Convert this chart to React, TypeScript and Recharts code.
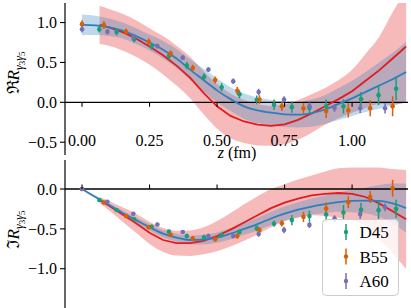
import React from "react";
import { ComposedChart, Area, Line, Scatter, ErrorBar, XAxis, YAxis, ReferenceLine } from "recharts";

// fit curves, sampled on a z grid (fm)
const zFit = [0, 0.05, 0.1, 0.15, 0.2, 0.25, 0.3, 0.35, 0.4, 0.45, 0.5, 0.55, 0.6, 0.65, 0.7, 0.75, 0.8, 0.85, 0.9, 0.95, 1.0, 1.05, 1.1, 1.15, 1.2];
const zRed = [0.065, 0.1, 0.15, 0.2, 0.25, 0.3, 0.35, 0.4, 0.45, 0.5, 0.55, 0.6, 0.65, 0.7, 0.75, 0.8, 0.85, 0.9, 0.95, 1.0, 1.05, 1.1, 1.15, 1.2];

const reBlue = [0.97, 0.965, 0.94, 0.9, 0.83, 0.75, 0.66, 0.55, 0.41, 0.28, 0.15, 0.04, -0.05, -0.1, -0.13, -0.15, -0.155, -0.135, -0.09, -0.02, 0.05, 0.13, 0.21, 0.29, 0.38];
const reBlueErr = [0.13, 0.12, 0.11, 0.1, 0.1, 0.1, 0.11, 0.12, 0.13, 0.14, 0.15, 0.15, 0.16, 0.16, 0.16, 0.16, 0.16, 0.17, 0.18, 0.2, 0.22, 0.25, 0.29, 0.33, 0.38];
const reRed = [0.97, 0.94, 0.88, 0.8, 0.7, 0.59, 0.46, 0.31, 0.12, -0.05, -0.17, -0.24, -0.28, -0.295, -0.275, -0.22, -0.14, -0.05, 0.04, 0.14, 0.27, 0.4, 0.55, 0.7];
const reRedErr = [0.24, 0.23, 0.23, 0.23, 0.23, 0.24, 0.25, 0.26, 0.27, 0.28, 0.28, 0.27, 0.26, 0.25, 0.25, 0.25, 0.24, 0.23, 0.24, 0.27, 0.34, 0.42, 0.58, 0.7];

const imBlue = [0, -0.1, -0.2, -0.3, -0.39, -0.48, -0.56, -0.61, -0.64, -0.635, -0.61, -0.56, -0.5, -0.44, -0.37, -0.31, -0.26, -0.22, -0.19, -0.165, -0.15, -0.145, -0.15, -0.18, -0.24];
const imBlueErr = [0.01, 0.015, 0.02, 0.03, 0.035, 0.04, 0.045, 0.05, 0.055, 0.06, 0.065, 0.07, 0.075, 0.08, 0.085, 0.09, 0.095, 0.1, 0.11, 0.12, 0.14, 0.16, 0.2, 0.25, 0.31];
const imRed = [-0.14, -0.21, -0.32, -0.43, -0.55, -0.64, -0.68, -0.68, -0.65, -0.59, -0.51, -0.42, -0.33, -0.24, -0.17, -0.12, -0.08, -0.06, -0.05, -0.06, -0.1, -0.18, -0.28, -0.38];
const imRedErr = [0.04, 0.06, 0.09, 0.12, 0.14, 0.15, 0.155, 0.16, 0.17, 0.19, 0.21, 0.23, 0.24, 0.24, 0.23, 0.24, 0.25, 0.28, 0.31, 0.33, 0.37, 0.45, 0.53, 0.62];

// lattice data
const zD45 = [0.064, 0.128, 0.193, 0.258, 0.322, 0.388, 0.452, 0.517, 0.583, 0.647, 0.711, 0.777, 0.842, 0.904, 0.968, 1.033, 1.098, 1.163];
const reD45 = [0.915, 0.88, 0.79, 0.7, 0.58, 0.46, 0.32, 0.19, 0.1, 0.03, -0.03, -0.06, -0.07, -0.05, -0.05, 0.04, 0.09, 0.17];
const reD45Err = [0.04, 0.04, 0.04, 0.04, 0.04, 0.045, 0.045, 0.05, 0.05, 0.055, 0.065, 0.07, 0.07, 0.085, 0.09, 0.09, 0.125, 0.145];
const imD45 = [-0.138, -0.263, -0.38, -0.473, -0.535, -0.59, -0.605, -0.577, -0.54, -0.494, -0.435, -0.39, -0.34, -0.32, -0.295, -0.26, -0.265, -0.25];
const imD45Err = [0.02, 0.02, 0.025, 0.025, 0.025, 0.03, 0.03, 0.03, 0.03, 0.035, 0.04, 0.065, 0.07, 0.095, 0.095, 0.085, 0.115, 0.115];

const zB55 = [0, 0.081, 0.163, 0.247, 0.328, 0.41, 0.493, 0.575, 0.657, 0.74, 0.82, 0.904, 0.986, 1.067, 1.15];
const reB55 = [0.98, 0.97, 0.885, 0.76, 0.61, 0.43, 0.28, 0.145, 0.035, -0.05, -0.075, -0.11, -0.1, -0.075, -0.05];
const reB55Err = [0.05, 0.05, 0.04, 0.04, 0.04, 0.04, 0.045, 0.05, 0.055, 0.06, 0.065, 0.085, 0.09, 0.1, 0.125];
const imB55 = [0, -0.17, -0.34, -0.48, -0.575, -0.62, -0.63, -0.59, -0.515, -0.43, -0.35, -0.245, -0.165, -0.1, 0.01];
const imB55Err = [0.01, 0.02, 0.02, 0.025, 0.025, 0.03, 0.03, 0.035, 0.035, 0.04, 0.065, 0.075, 0.075, 0.075, 0.105];

const zA60 = [0, 0.094, 0.19, 0.279, 0.373, 0.468, 0.56, 0.654, 0.748, 0.842, 0.935, 1.03, 1.122];
const reA60 = [0.915, 0.885, 0.82, 0.705, 0.56, 0.41, 0.265, 0.13, 0.035, -0.05, -0.07, -0.075, -0.075];
const reA60Err = [0.04, 0.035, 0.03, 0.03, 0.03, 0.03, 0.035, 0.04, 0.04, 0.045, 0.05, 0.06, 0.065];
const imA60 = [0, -0.16, -0.31, -0.445, -0.54, -0.59, -0.59, -0.565, -0.515, -0.45, -0.37, -0.315, -0.23];
const imA60Err = [0.01, 0.02, 0.02, 0.02, 0.025, 0.03, 0.03, 0.035, 0.04, 0.04, 0.04, 0.06, 0.05];

const seriesNames = ["D45", "B55", "A60"];
const xTicks = [0, 0.25, 0.5, 0.75, 1.0];
const reTicks = [-0.5, 0, 0.5, 1.0];
const imTicks = [-1.0, -0.5, 0];

const COLORS = ["#1b9e77", "#d95f02", "#7570b3"];
const BLUE = "#2f7ebc";
const RED = "#e41a1c";
const SERIF = "'Liberation Serif', 'DejaVu Serif', serif";

const pts = (zs: number[], ys: number[], es: number[]) => zs.map((z, i) => ({ z, y: ys[i], e: es[i] }));
const curve = (zs: number[], ys: number[], hw: number[]) =>
    zs.map((z, i) => ({ z, v: ys[i], b: [ys[i] - hw[i], ys[i] + hw[i]] }));

const fmtY = (v: number) => (v < 0 ? "\u2212" + Math.abs(v).toFixed(1) : v.toFixed(1));

interface PanelProps {
    top: number;
    height: number;
    domain: [number, number];
    yTicks: number[];
    blue: any[];
    red: any[];
    points: any[][];
    showLabels: boolean;
}

function Panel({ top, height, domain, yTicks, blue, red, points, showLabels }: PanelProps) {
    const plotTop = 3;
    const plotH = height - plotTop - 30;
    const zeroY = plotTop + (plotH * domain[1]) / (domain[1] - domain[0]);

    // x ticks hang off the zero line, labels sit low in the top panel
    const tick = (p: any) => (
        <g>
            <line
                x1={p.x}
                x2={p.x}
                y1={zeroY}
                y2={showLabels ? zeroY + 4.5 : zeroY - 4.5}
                stroke="#000"
                strokeWidth={1.1}
            />
            {showLabels && (
                <text x={p.x} y={146} textAnchor="middle" fontSize={16} fontFamily={SERIF} fill="#000">
                    {p.payload.value.toFixed(2)}
                </text>
            )}
        </g>
    );

    return (
        <div style={{ position: "absolute", left: 0, top }}>
            <ComposedChart width={411} height={height} margin={{ top: plotTop, right: 3, bottom: 0, left: 0 }}>
                <XAxis
                    dataKey="z"
                    type="number"
                    domain={[-0.063, 1.207]}
                    allowDataOverflow
                    ticks={xTicks}
                    axisLine={false}
                    tickLine={false}
                    tick={tick}
                    height={30}
                />
                <YAxis
                    type="number"
                    domain={domain}
                    allowDataOverflow
                    ticks={yTicks}
                    tickFormatter={fmtY}
                    width={65}
                    tickSize={5}
                    tickMargin={3}
                    axisLine={{ stroke: "#000", strokeWidth: 1.2 }}
                    tickLine={{ stroke: "#000", strokeWidth: 1.1 }}
                    tick={{ fontSize: 16, fontFamily: SERIF, fill: "#000" }}
                />
                <Area data={red} dataKey="b" type="monotone" stroke="none" fill={RED} fillOpacity={0.3} isAnimationActive={false} />
                <Area data={blue} dataKey="b" type="monotone" stroke="none" fill={BLUE} fillOpacity={0.3} isAnimationActive={false} />
                <ReferenceLine y={0} stroke="#000" strokeWidth={1.3} />
                <Line data={red} dataKey="v" type="linear" stroke={RED} strokeWidth={1.8} dot={false} activeDot={false} isAnimationActive={false} />
                <Line data={blue} dataKey="v" type="monotone" stroke={BLUE} strokeWidth={1.8} dot={false} activeDot={false} isAnimationActive={false} />
                {points.map((d, k) => (
                    <Scatter
                        key={seriesNames[k]}
                        data={d}
                        dataKey="y"
                        fill={COLORS[k]}
                        isAnimationActive={false}
                        shape={(p: any) => <circle cx={p.cx} cy={p.cy} r={2.3} fill={COLORS[k]} />}
                    >
                        <ErrorBar dataKey="e" direction="y" width={0} stroke={COLORS[k]} strokeWidth={1.5} />
                    </Scatter>
                ))}
            </ComposedChart>
        </div>
    );
}

export default function App() {
    const reBlueData = curve(zFit, reBlue, reBlueErr);
    const reRedData = curve(zRed, reRed, reRedErr);
    const imBlueData = curve(zFit, imBlue, imBlueErr);
    const imRedData = curve(zRed, imRed, imRedErr);

    const rePoints = [pts(zD45, reD45, reD45Err), pts(zB55, reB55, reB55Err), pts(zA60, reA60, reA60Err)];
    const imPoints = [pts(zD45, imD45, imD45Err), pts(zB55, imB55, imB55Err), pts(zA60, imA60, imA60Err)];

    return (
        <div style={{ position: "absolute", left: 0, top: 0, width: 411, height: 308, overflow: "hidden", background: "#fff" }}>
            <Panel top={0} height={185} domain={[-0.66, 1.245]} yTicks={reTicks} blue={reBlueData} red={reRedData} points={rePoints} showLabels />
            <Panel top={157} height={183} domain={[-1.518, 0.364]} yTicks={imTicks} blue={imBlueData} red={imRedData} points={imPoints} showLabels={false} />

            {/* axis titles */}
            <svg width={411} height={308} style={{ position: "absolute", left: 0, top: 0, pointerEvents: "none" }}>
                <text transform="translate(19,73) rotate(-90)" textAnchor="middle" fontFamily={SERIF} fontSize={17} fill="#000">
                    <tspan>ℜ</tspan>
                    <tspan fontStyle="italic">R</tspan>
                    <tspan fontSize={12} dy={4} fontStyle="italic">γ</tspan>
                    <tspan fontSize={9} dy={2}>3</tspan>
                    <tspan fontSize={12} dy={-2} fontStyle="italic">γ</tspan>
                    <tspan fontSize={9} dy={2}>5</tspan>
                </text>
                <text transform="translate(19,230) rotate(-90)" textAnchor="middle" fontFamily={SERIF} fontSize={17} fill="#000">
                    <tspan>ℑ</tspan>
                    <tspan fontStyle="italic">R</tspan>
                    <tspan fontSize={12} dy={4} fontStyle="italic">γ</tspan>
                    <tspan fontSize={9} dy={2}>3</tspan>
                    <tspan fontSize={12} dy={-2} fontStyle="italic">γ</tspan>
                    <tspan fontSize={9} dy={2}>5</tspan>
                </text>
                <text x={237} y={158} textAnchor="middle" fontFamily={SERIF} fontSize={16} fill="#000">
                    <tspan fontStyle="italic">z</tspan> (fm)
                </text>
            </svg>

            {/* legend */}
            <svg width={78} height={78} style={{ position: "absolute", left: 322, top: 219 }}>
                <rect x={0.5} y={0.5} width={76} height={76} rx={4} fill="#fff" fillOpacity={0.8} stroke="#cccccc" />
                {seriesNames.map((name, k) => {
                    const cy = 13 + k * 24.5;
                    return (
                        <g key={name}>
                            <line x1={24} x2={24} y1={cy - 8} y2={cy + 8} stroke={COLORS[k]} strokeWidth={1.5} />
                            <circle cx={24} cy={cy} r={2.2} fill={COLORS[k]} />
                            <text x={37.5} y={cy + 6} fontFamily={SERIF} fontSize={17} fill="#000">
                                {name}
                            </text>
                        </g>
                    );
                })}
            </svg>
        </div>
    );
}
